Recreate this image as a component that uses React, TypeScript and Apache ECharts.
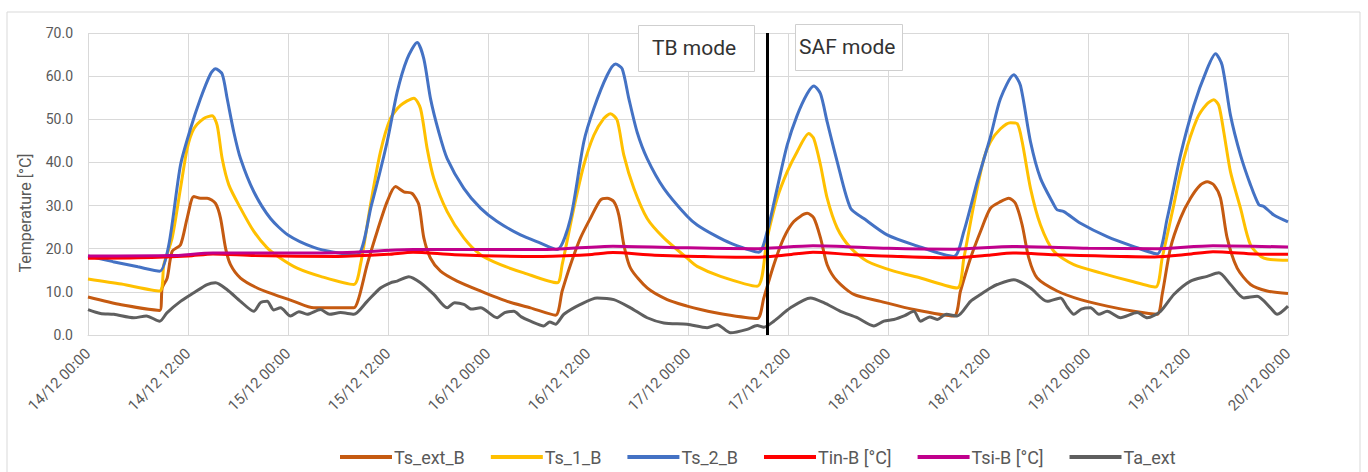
import React, { useEffect, useRef } from "react";
import * as echarts from "echarts";

// hours since 14/12 00:00
const tickLabels = [
  "14/12 00:00", "14/12 12:00", "15/12 00:00", "15/12 12:00", "16/12 00:00", "16/12 12:00",
  "17/12 00:00", "17/12 12:00", "18/12 00:00", "18/12 12:00", "19/12 00:00", "19/12 12:00", "20/12 00:00",
];
const yTicks = [0, 70, 10];
const switchHour = 81.5;
const seriesNames = ["Ts_ext_B", "Ts_1_B", "Ts_2_B", "Tin-B [°C]", "Tsi-B [°C]", "Ta_ext"];
const seriesColors = ["#C55A11", "#FFC000", "#4472C4", "#FF0000", "#C0008C", "#5F5F5F"];

const tsExtB = [
  [0, 8.8], [4, 7], [8.6, 5.7], [8.9, 10.9], [9.5, 13.2], [10.1, 19.4], [11.1, 20.9], [11.9, 27.1], [12.7, 32.1],
  [13.5, 31.7], [14.3, 31.7], [15.3, 30.5], [15.9, 27.1], [16.5, 20.2], [17.1, 16.3], [18.3, 13.2], [20.3, 10.9],
  [22.3, 9.4], [24.7, 7.8], [27.1, 6.3], [29.5, 6.3], [31.9, 6.3], [32.5, 8.6], [33.5, 16.3], [34.7, 24], [35.9, 30.9],
  [36.9, 34.4], [37.9, 33.2], [38.9, 32.8], [39.7, 30.2], [40.3, 22.5], [41.1, 17.8], [42.3, 14.8], [44.3, 12.5],
  [47.1, 10.2], [50.3, 7.8], [53.1, 6.3], [56.1, 4.6], [56.9, 10.2], [57.9, 16.3], [59.1, 22.5], [60.3, 27.1],
  [61.5, 31.3], [62.3, 31.7], [63.1, 30.9], [63.7, 27.8], [64.3, 20.9], [65.1, 15.5], [67.1, 10.9], [69.5, 8.2],
  [71.9, 6.7], [73.5, 5.9], [76.3, 4.8], [80.3, 3.8], [81.1, 8.6], [82.3, 16.3], [83.5, 22.5], [84.7, 26.3],
  [86.3, 28.2], [87.1, 27.1], [87.9, 22.5], [88.7, 16.3], [89.9, 12.5], [91.9, 9.4], [95.1, 7.8], [99.1, 5.9],
  [103.9, 4.4], [104.7, 10.2], [105.9, 17.8], [107.1, 24], [108.3, 29.4], [109.5, 30.9], [110.5, 31.7], [111.3, 30.5],
  [112.1, 25.5], [112.9, 17.8], [113.9, 13.2], [116.3, 10.2], [119.1, 8.2], [122.3, 6.7], [125.5, 5.5], [128.3, 4.8],
  [128.9, 9.4], [129.9, 20.2], [131.1, 27.1], [132.3, 31.7], [133.5, 34.8], [134.3, 35.5], [135.1, 34.8],
  [135.9, 31.7], [136.7, 22.5], [137.9, 15.5], [139.5, 11.7], [141.5, 10.2], [144, 9.6],
];

const ts1B = [
  [0, 13], [4, 11.8], [8.6, 10.2], [9.1, 16.3], [10.1, 22.5], [11.1, 34], [11.9, 43.2], [12.7, 47.8], [13.9, 50.2],
  [14.9, 50.8], [15.5, 48.6], [16.1, 40.9], [16.9, 34.8], [18.3, 29.4], [19.9, 24], [21.5, 20.2], [23.1, 17.8],
  [25.1, 15.5], [27.9, 13.6], [31.9, 11.7], [32.7, 16.3], [33.9, 30.2], [35.1, 42.5], [36.3, 50.2], [37.5, 53.2],
  [39.1, 54.9], [39.9, 52.5], [40.7, 43.2], [41.5, 36.3], [43.1, 28.6], [45.1, 22.5], [47.1, 18.6], [49.5, 16.3],
  [52.3, 14.4], [56.3, 12.1], [56.9, 16.3], [58.3, 29.4], [59.5, 39.4], [60.7, 46.3], [61.9, 50.2], [62.7, 51.3],
  [63.5, 49.8], [64.3, 41.7], [65.5, 34], [67.1, 27], [69.1, 22.5], [71.9, 17.8], [73.1, 15.9], [75.9, 13.6],
  [80.3, 11.3], [81.5, 22.5], [82.7, 31.7], [83.9, 37.8], [85.1, 42.5], [86.5, 46.7], [87.1, 45.5], [87.9, 39.4],
  [88.7, 31.7], [89.9, 24.8], [91.5, 20.2], [93.5, 17.1], [96.7, 14.8], [99.9, 13.2], [104.3, 10.9], [105.1, 17.8],
  [106.3, 30.2], [107.5, 40.9], [108.3, 44.8], [109.5, 47.8], [110.7, 49.2], [111.5, 49], [112.1, 44.8], [113.1, 34],
  [114.3, 25.5], [115.9, 19.4], [118.3, 16.3], [121.5, 14.4], [125.1, 12.5], [128.1, 11.1], [128.9, 17.8],
  [130.3, 30.2], [131.5, 40.9], [133.1, 50.2], [134.3, 53.6], [135.1, 54.5], [135.7, 53.2], [136.3, 47], [137.1, 37.8],
  [138.3, 29.4], [139.5, 20.9], [141.1, 17.8], [144, 17.3],
];

const ts2B = [
  [0, 18.3], [3, 17], [6, 15.8], [8.6, 14.8], [9.7, 20.9], [11.1, 39.4], [12.3, 47.8], [13.5, 54.8], [14.7, 60.5],
  [15.3, 61.7], [16.1, 60.5], [16.7, 54.8], [17.5, 47], [18.3, 40.9], [19.9, 33.2], [21.9, 27], [24, 23.2],
  [27.1, 20.3], [29.5, 19.2], [32.3, 18.6], [34, 30], [35.9, 44.8], [37.1, 56.3], [38.3, 64], [39.5, 67.8], [40.3, 64],
  [41.1, 54.8], [42.1, 47], [43.1, 40.9], [45.1, 34], [47.1, 29.4], [49.1, 26.3], [51.9, 23.2], [54.3, 21.3],
  [56.3, 19.8], [57.9, 27], [59.5, 44.8], [60.7, 52.5], [62.3, 60.2], [63.3, 62.8], [64.1, 61.7], [64.9, 54.8],
  [65.9, 47], [67.1, 40.9], [69.1, 34], [71.9, 27.5], [73.1, 25.5], [75.1, 23.2], [77.1, 21.3], [80.5, 19.2],
  [81.5, 24], [82.7, 34], [83.9, 44], [85.1, 50.9], [86.3, 55.9], [87.1, 57.7], [87.9, 55.9], [88.7, 49.4],
  [89.9, 40.2], [91.5, 29.4], [93.1, 27], [95.9, 23.2], [99.1, 20.9], [103.9, 18.2], [105.1, 24], [106.7, 35.5],
  [108.3, 46], [109.5, 54.8], [111.1, 60.3], [111.9, 57.8], [113.1, 44.8], [114.3, 36.3], [115.9, 30.2], [116.3, 29],
  [117.1, 28.6], [119.1, 25.9], [122.3, 22.8], [125.5, 20.5], [128.3, 18.8], [129.5, 27], [131.1, 41.7],
  [132.7, 53.2], [134.3, 61.7], [135.3, 65.2], [136.1, 62.5], [137.1, 50.9], [138.3, 41.7], [139.5, 34.8],
  [140.5, 30.2], [141.1, 29.8], [142.3, 27.8], [144, 26.2],
];

const tinB = [
  [0, 17.8], [6, 17.9], [12, 18.3], [15, 18.8], [20, 18.4], [30, 18.2], [36, 18.7], [39, 19.2], [44, 18.6], [54, 18.2],
  [60, 18.6], [63, 19.1], [68, 18.5], [80, 18.0], [84, 18.6], [87, 19.2], [92, 18.6], [104, 17.9], [108, 18.5],
  [111, 19.0], [116, 18.6], [128, 18.1], [132, 18.7], [135, 19.3], [140, 18.8], [144, 18.7],
];

const tsiB = [
  [0, 18.3], [10, 18.4], [15, 19.0], [24, 19.0], [32, 19.2], [39, 19.8], [48, 19.8], [56, 19.9], [63, 20.6], [72, 20.2],
  [80, 20.0], [87, 20.7], [96, 20.1], [104, 19.9], [111, 20.5], [120, 20.1], [128, 20.0], [135, 20.7], [144, 20.4],
];

const taExt = [
  [0, 5.9], [1.5, 5], [3.1, 4.8], [5.5, 4], [7, 4.4], [8.6, 3.2], [9.5, 5.2], [11.1, 7.8], [12.7, 9.8], [14.3, 11.7],
  [15.3, 12.1], [16.7, 10.5], [18.3, 7.8], [19.9, 5.5], [20.7, 7.5], [21.5, 7.8], [22.3, 5.8], [23.1, 6.3], [24.3, 4.4],
  [25.3, 5.4], [26.3, 4.8], [27.9, 5.9], [29, 4.8], [30.3, 5.2], [31.9, 4.8], [33.5, 7.8], [35.1, 10.9], [36.3, 12.1],
  [37.1, 12.5], [38.5, 13.5], [39.9, 12.1], [41.5, 9.4], [43.1, 6.3], [44, 7.5], [45.1, 7.1], [46, 6], [47.1, 6.3],
  [49.1, 4], [50, 5.2], [51.1, 5.5], [52, 4.2], [53.1, 3.2], [54.7, 2.1], [55.4, 3], [56.1, 2.5], [57.1, 4.8],
  [59.1, 7.1], [61.1, 8.6], [63.1, 8.2], [65.1, 6.3], [67.1, 4], [69.1, 2.8], [71.9, 2.5], [74.3, 1.7], [75.5, 2.4],
  [77.1, 0.5], [79.1, 1.3], [80.3, 2.2], [81.1, 1.8], [82.3, 3.2], [84.3, 6.3], [86.7, 8.6], [88.3, 7.5], [90.3, 5.5],
  [92.3, 4], [94.3, 2.1], [95.5, 3.2], [96.7, 3.6], [98, 4.5], [99.1, 5.5], [99.9, 3.2], [101, 4.2], [101.9, 3.6],
  [103, 4.8], [104.3, 4.4], [105.9, 7.8], [107.1, 9.4], [108.3, 10.9], [109.1, 11.7], [111.1, 12.8], [113.1, 10.9],
  [115.1, 7.8], [116.7, 8.6], [117.5, 6.5], [118.3, 4.8], [119.2, 6], [120.3, 6.3], [121.3, 4.8], [122.3, 5.5],
  [123.9, 4], [125.9, 5.2], [127.1, 4], [128.7, 5.5], [130.3, 9.4], [132.3, 12.5], [134.3, 13.6], [135.7, 14.4],
  [137.1, 11.7], [138.7, 8.6], [140.3, 9], [141.9, 6.3], [142.7, 4.8], [144, 6.7],
];

const seriesData = [tsExtB, ts1B, ts2B, tinB, tsiB, taExt];

const FONT = "Roboto, 'Noto Sans', sans-serif";
const TEXT = "#595959";
const GRIDC = "#d9d9d9";

export default function App() {
  const ref = useRef<HTMLDivElement>(null);
  useEffect(() => {
    if (!ref.current) return;
    const chart = echarts.init(ref.current, undefined, { renderer: "svg" });
    const series: any[] = seriesNames.map((name, i) => ({
      name,
      type: "line",
      data: seriesData[i],
      showSymbol: false,
      symbol: "none",
      smooth: 0.25,
      lineStyle: { color: seriesColors[i], width: 3 },
      itemStyle: { color: seriesColors[i] },
      z: 2 + i,
    }));
    series[0].markLine = {
      symbol: "none",
      silent: true,
      label: { show: false },
      lineStyle: { color: "#000", width: 3, type: "solid" },
      data: [{ xAxis: switchHour }],
      z: 20,
    };
    chart.setOption({
      animation: false,
      backgroundColor: "#fff",
      textStyle: { fontFamily: FONT },
      grid: { left: 88, right: 80, top: 33, bottom: 137 },
      legend: {
        data: seriesNames,
        left: 335,
        top: 443,
        icon: "rect",
        itemWidth: 52,
        itemHeight: 4,
        itemGap: 26,
        textStyle: { color: TEXT, fontSize: 18, fontFamily: FONT, padding: [0, 0, 0, -3] },
      },
      xAxis: {
        type: "value",
        min: 0,
        max: 144,
        interval: 12,
        axisLine: { show: true, lineStyle: { color: GRIDC } },
        axisTick: { show: false },
        splitLine: { show: true, lineStyle: { color: GRIDC, width: 1 } },
        axisLabel: {
          rotate: 45,
          margin: 16,
          color: TEXT,
          fontSize: 15,
          fontFamily: FONT,
          formatter: (v: number) => tickLabels[Math.round(v / 12)] ?? "",
        },
      },
      yAxis: {
        type: "value",
        min: yTicks[0],
        max: yTicks[1],
        interval: yTicks[2],
        axisLine: { show: false },
        axisTick: { show: false },
        splitLine: { show: true, lineStyle: { color: GRIDC, width: 1 } },
        axisLabel: {
          margin: 15,
          color: TEXT,
          fontSize: 14,
          fontFamily: FONT,
          formatter: (v: number) => v.toFixed(1),
        },
      },
      graphic: [
        {
          type: "rect",
          silent: true,
          z: -10,
          shape: { x: 7, y: 12, width: 1353, height: 480 },
          style: { fill: "none", stroke: GRIDC, lineWidth: 1 },
        },
        {
          type: "text",
          x: 25,
          y: 213,
          rotation: Math.PI / 2,
          style: {
            text: "Temperature [°C]",
            fill: TEXT,
            fontSize: 16,
            fontFamily: FONT,
            align: "center",
            verticalAlign: "middle",
          },
        },
        {
          type: "rect",
          z: 100,
          shape: { x: 638.5, y: 25.5, width: 116, height: 46 },
          style: { fill: "#fff", stroke: "#cfcfcf", lineWidth: 1 },
        },
        {
          type: "text",
          z: 101,
          x: 652,
          y: 48,
          style: { text: "TB mode", fill: "#333", fontSize: 21, fontFamily: FONT, verticalAlign: "middle" },
        },
        {
          type: "rect",
          z: 100,
          shape: { x: 795.5, y: 24.5, width: 107, height: 46 },
          style: { fill: "#fff", stroke: "#cfcfcf", lineWidth: 1 },
        },
        {
          type: "text",
          z: 101,
          x: 799,
          y: 47,
          style: { text: "SAF mode", fill: "#333", fontSize: 21, fontFamily: FONT, verticalAlign: "middle" },
        },
      ],
      series,
    });
    return () => chart.dispose();
  }, []);
  return (
    <div
      ref={ref}
      style={{ position: "fixed", left: 0, top: 0, width: 1368, height: 472, background: "#fff" }}
    />
  );
}
